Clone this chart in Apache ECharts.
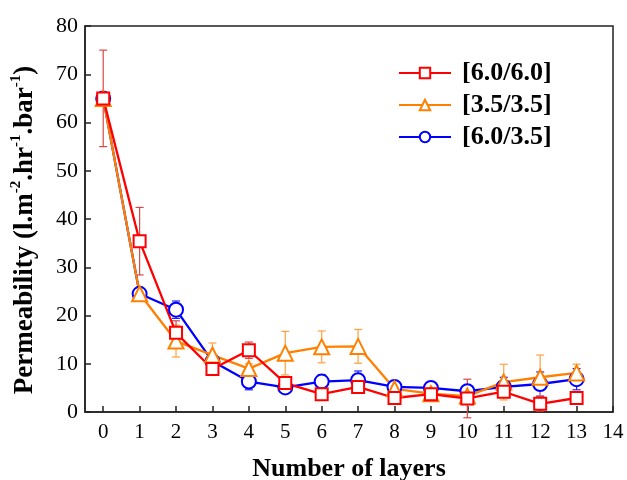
<!DOCTYPE html>
<html>
<head>
<meta charset="utf-8">
<script src="https://cdn.jsdelivr.net/npm/echarts@6/dist/echarts.min.js"></script>
<style>
  html, body { margin: 0; padding: 0; background: #fff; }
  #chart { width: 627px; height: 480px; }
</style>
</head>
<body>
<div id="chart"></div>
<script>
// values
const layers = [0, 1, 2, 3, 4, 5, 6, 7, 8, 9, 10, 11, 12, 13];
const xTicks = [0, 1, 2, 3, 4, 5, 6, 7, 8, 9, 10, 11, 12, 13, 14];

const red = [65, 35.4, 16.4, 8.9, 12.8, 6.0, 3.7, 5.2, 2.9, 3.7, 2.8, 4.2, 1.7, 2.9];
const redErr = [10, 7, 2.5, 0.8, 1.7, 1.0, 0.6, 1.0, 0.7, 0.8, 4.0, 1.0, 1.5, 1.0];

const orange = [65, 24.5, 14.7, 11.8, 9.0, 12.2, 13.5, 13.6, 4.8, 3.8, 3.3, 6.2, 7.2, 8.1];
const orangeErr = [0, 0.5, 3.3, 2.5, 1.0, 4.5, 3.3, 3.5, 1.0, 1.0, 1.0, 3.7, 4.6, 1.8];

const blue = [65, 24.5, 21.2, 10.5, 6.3, 5.1, 6.3, 6.6, 5.2, 5.0, 4.3, 5.2, 5.8, 6.8];
const blueErr = [0, 0.5, 1.8, 1.0, 1.7, 0.8, 1.4, 1.9, 1.2, 1.0, 1.0, 2.0, 2.5, 2.2];

const names = ['[6.0/6.0]', '[3.5/3.5]', '[6.0/3.5]'];
const colors = ['#ff0000', '#ff8000', '#0000ff'];
const errColors = ['#d84848', '#ffa040', '#2020ff'];

const font = '"Liberation Serif", "Times New Roman", serif';

const chart = echarts.init(document.getElementById('chart'));

function pairs(vals) {
  return layers.map((x, i) => [x, vals[i]]);
}

function errSeries(vals, errs, color) {
  return {
    type: 'custom',
    silent: true,
    z: 1,
    data: layers.map((x, i) => [x, vals[i] - errs[i], vals[i] + errs[i]]),
    renderItem: (params, api) => {
      const lo = api.coord([api.value(0), api.value(1)]);
      const hi = api.coord([api.value(0), api.value(2)]);
      const cap = 4;
      const st = { stroke: color, lineWidth: 1.2 };
      return {
        type: 'group',
        children: [
          { type: 'line', shape: { x1: lo[0], y1: lo[1], x2: hi[0], y2: hi[1] }, style: st },
          { type: 'line', shape: { x1: lo[0] - cap, y1: lo[1], x2: lo[0] + cap, y2: lo[1] }, style: st },
          { type: 'line', shape: { x1: hi[0] - cap, y1: hi[1], x2: hi[0] + cap, y2: hi[1] }, style: st }
        ]
      };
    }
  };
}

function lineSeries(name, vals, color, symbol, size) {
  return {
    name: name,
    type: 'line',
    data: pairs(vals),
    symbol: symbol,
    symbolSize: size,
    z: 3,
    lineStyle: { color: color, width: 2.3 },
    itemStyle: { color: color, borderColor: color, borderWidth: 2.7 }
  };
}

const option = {
  backgroundColor: '#fff',
  animation: false,
  grid: {
    left: 85, right: 14, top: 26, bottom: 68,
    outerBoundsMode: 'none',
    show: true, borderColor: '#222', borderWidth: 1.5
  },
  legend: {
    orient: 'vertical',
    left: 393,
    top: 55,
    itemWidth: 52,
    itemHeight: 13,
    itemGap: 6,
    data: names,
    textStyle: { fontFamily: font, fontWeight: 'bold', fontSize: 26, color: '#000', padding: [0, 0, 0, 6] }
  },
  xAxis: {
    type: 'value',
    min: -0.5,
    max: 14,
    name: 'Number of layers',
    nameLocation: 'middle',
    nameGap: 44,
    nameTextStyle: { fontFamily: font, fontWeight: 'bold', fontSize: 26, color: '#000' },
    axisLine: { onZero: false, lineStyle: { color: '#222', width: 1.5 } },
    axisTick: { inside: true, length: 6, lineStyle: { color: '#222', width: 1.5 }, customValues: xTicks },
    axisLabel: { fontFamily: font, fontSize: 21, color: '#000', margin: 10, customValues: xTicks },
    splitLine: { show: false }
  },
  yAxis: {
    type: 'value',
    min: 0,
    max: 80,
    interval: 10,
    name: '{b|Permeability (l.m}{s|-2}{b|.hr}{s|-1}{b|.bar}{s|-1}{b|)}',
    nameLocation: 'middle',
    nameGap: 46,
    nameTextStyle: {
      padding: [0, 22, 0, 0],
      rich: {
        b: { fontFamily: font, fontWeight: 'bold', fontSize: 27, color: '#000', lineHeight: 30, verticalAlign: 'bottom' },
        s: { fontFamily: font, fontWeight: 'bold', fontSize: 15, color: '#000', lineHeight: 30, verticalAlign: 'top' }
      }
    },
    axisLine: { onZero: false, lineStyle: { color: '#222', width: 1.5 } },
    axisTick: { inside: true, length: 6, lineStyle: { color: '#222', width: 1.5 } },
    axisLabel: { fontFamily: font, fontSize: 22, color: '#000', margin: 7 },
    splitLine: { show: false }
  },
  series: [
    errSeries(blue, blueErr, errColors[2]),
    errSeries(orange, orangeErr, errColors[1]),
    errSeries(red, redErr, errColors[0]),
    lineSeries(names[2], blue, colors[2], 'emptyCircle', 14),
    lineSeries(names[1], orange, colors[1], 'emptyTriangle', 15),
    lineSeries(names[0], red, colors[0], 'emptyRect', 12)
  ]
};

chart.setOption(option);
</script>
</body>
</html>
